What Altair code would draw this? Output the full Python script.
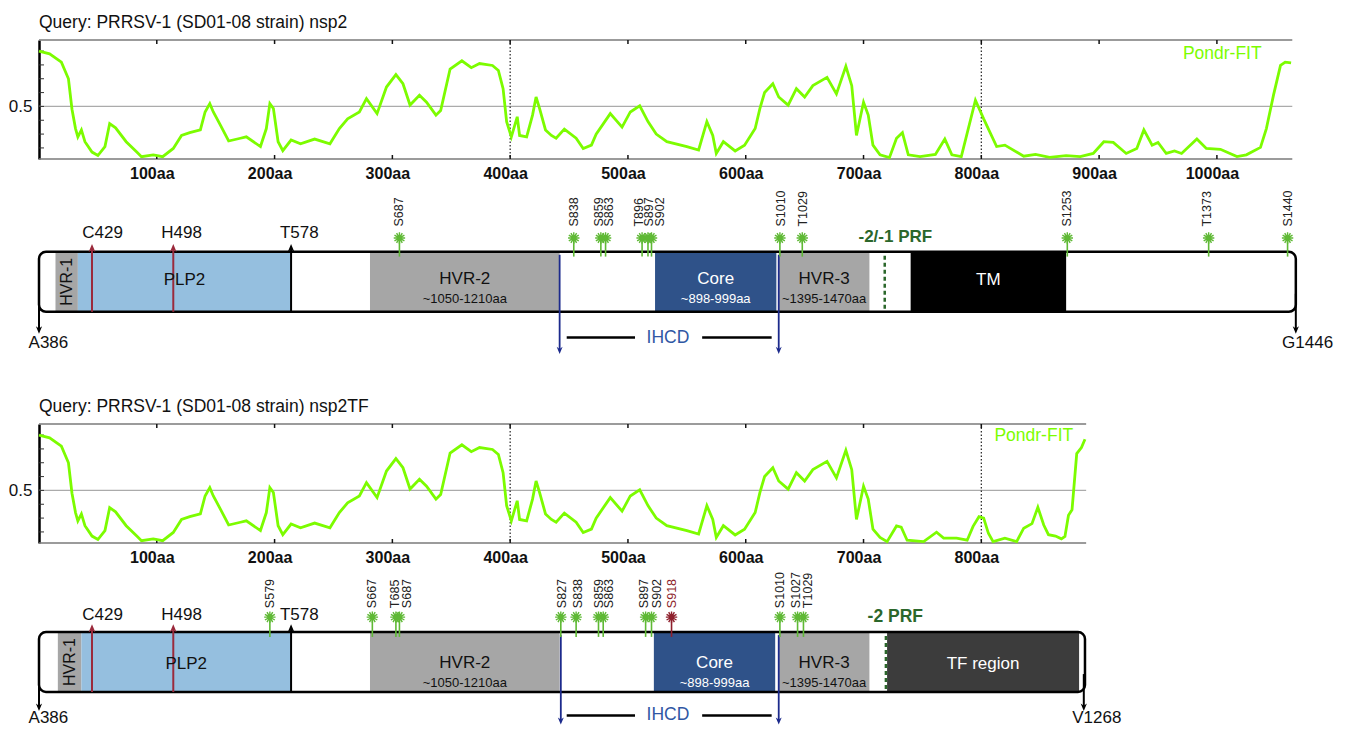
import altair as alt
import pandas as pd

FONT = "Liberation Sans"

# ---------------- Pondr-FIT disorder profiles ----------------
shared_aa = [0, 9, 19, 25, 28, 31, 33, 36, 39, 45, 50, 56,
             60, 65, 74, 83, 87, 97, 105, 114, 121, 128, 137, 141,
             145, 148, 154, 161, 171, 176, 188, 193, 196, 199, 203, 207,
             214, 222, 234, 247, 255, 262, 272, 278, 287, 295, 303, 309,
             315, 323, 329, 337, 341, 349, 359, 367, 374, 385, 390, 394,
             397, 401, 406, 408, 414, 419, 422, 425, 430, 435, 439, 446,
             456, 462, 469, 473, 485, 495, 502, 510, 517, 524, 533, 550,
             560, 567, 572, 575, 581, 591, 599, 608, 612, 616, 623, 628,
             636, 643, 650, 657, 669, 677, 685, 690, 694, 700, 704, 708]
shared_score = [0.90, 0.88, 0.82, 0.70, 0.48, 0.34, 0.28, 0.33, 0.245, 0.17, 0.145, 0.21,
                0.376, 0.345, 0.245, 0.17, 0.137, 0.15, 0.137, 0.196, 0.29, 0.31, 0.33, 0.46,
                0.52, 0.46, 0.365, 0.25, 0.27, 0.28, 0.21, 0.34, 0.52, 0.485, 0.245, 0.18,
                0.257, 0.23, 0.264, 0.23, 0.34, 0.41, 0.46, 0.556, 0.448, 0.64, 0.73, 0.664,
                0.51, 0.58, 0.53, 0.437, 0.47, 0.77, 0.83, 0.78, 0.81, 0.796, 0.76, 0.628,
                0.39, 0.28, 0.425, 0.29, 0.28, 0.437, 0.568, 0.484, 0.33, 0.29, 0.27, 0.336,
                0.27, 0.196, 0.22, 0.30, 0.448, 0.35, 0.46, 0.504, 0.39, 0.30, 0.245, 0.21,
                0.185, 0.39, 0.29, 0.16, 0.245, 0.178, 0.22, 0.34, 0.484, 0.60, 0.664, 0.568,
                0.509, 0.628, 0.568, 0.65, 0.71, 0.59, 0.79, 0.65, 0.29, 0.53, 0.437, 0.22]

nsp2_tail_aa = [714, 722, 728, 733, 738, 748, 761, 769, 775, 783, 795, 802,
                813, 820, 836, 846, 858, 872, 884, 895, 904, 912, 923, 932,
                938, 945, 950, 957, 964, 970, 983, 991, 1003, 1017, 1025, 1037,
                1042, 1048, 1054, 1058, 1063]
nsp2_tail_score = [0.15, 0.13, 0.27, 0.31, 0.15, 0.137, 0.153, 0.264, 0.15, 0.137, 0.545, 0.41,
                   0.21, 0.22, 0.14, 0.153, 0.132, 0.144, 0.137, 0.16, 0.245, 0.24, 0.16, 0.196,
                   0.33, 0.22, 0.24, 0.16, 0.178, 0.16, 0.264, 0.196, 0.19, 0.137, 0.15, 0.204,
                   0.34, 0.58, 0.796, 0.82, 0.815]

nsp2tf_tail_aa = [714, 720, 728, 732, 737, 751, 762, 768, 779, 788, 793, 798,
                  802, 806, 810, 820, 830, 836, 843, 848, 853, 857, 863, 868,
                  871, 874, 877, 881, 885, 888]
nsp2tf_tail_score = [0.16, 0.13, 0.243, 0.234, 0.14, 0.13, 0.198, 0.155, 0.155, 0.14, 0.24, 0.31,
                     0.30, 0.19, 0.13, 0.155, 0.13, 0.227, 0.26, 0.378, 0.25, 0.18, 0.17, 0.15,
                     0.167, 0.32, 0.36, 0.766, 0.81, 0.87]

nsp2_end = 1064
nsp2tf_end = 889
nsp2_ticks = [100, 200, 300, 400, 500, 600, 700, 800, 900, 1000]
nsp2tf_ticks = [100, 200, 300, 400, 500, 600, 700, 800]
dotted_marks = [400, 800]
minor_y = [0.2, 0.3, 0.4, 0.5, 0.6, 0.7, 0.8, 0.9]

# ---------------- schematic domains (aa units of the profile axis) ----------------
seg_color_domain = ["HVR-1", "PLP2", "HVR-2", "Core", "HVR-3", "TM", "TF region"]
seg_color_range = ["#a6a6a6", "#95bfdf", "#a6a6a6", "#2f5289", "#a6a6a6", "#000000", "#3c3c3c"]
light_text = ["Core", "TM", "TF region"]

d1_seg_names = ["HVR-1", "PLP2", "HVR-2", "Core", "HVR-3", "TM"]
d1_seg_start = [14, 33, 281, 523, 628, 740]
d1_seg_end = [33, 214, 442, 626, 705, 872]
d1_seg_sub = ["", "", "~1050-1210aa", "~898-999aa", "~1395-1470aa", ""]
d1_box_end = 1067

d2_seg_names = ["HVR-1", "PLP2", "HVR-2", "Core", "HVR-3", "TF region"]
d2_seg_start = [16, 36, 281, 522, 628, 720]
d2_seg_end = [36, 214, 442, 625, 705, 883]
d2_seg_sub = ["", "", "~1050-1210aa", "~898-999aa", "~1395-1470aa", ""]
d2_box_end = 888

d1_sites = ["S687", "S838", "S859", "S863", "T896", "S897", "S902", "S1010", "T1029", "S1253", "T1373", "S1440"]
d1_site_pos = [306, 454, 477, 481, 512, 517, 520, 629, 648, 873, 993, 1060]
d1_site_lab = [306, 454, 475, 484, 509, 518, 527, 630, 649, 873, 992, 1060]

d2_sites = ["S579", "S667", "T685", "S687", "S827", "S838", "S859", "S863", "S897", "S902", "S918", "S1010", "S1027", "T1029"]
d2_site_pos = [196, 283, 303, 306, 443, 456, 475, 479, 515, 520, 537, 629, 644, 649]
d2_site_lab = [196, 283, 302, 312, 444, 458, 475, 484, 514, 525, 537, 629, 643, 653]
highlight_sites = ["S918"]

mk_names = ["C429", "H498", "T578"]
mk_pos = [45, 114, 214]
mk_lab = [54, 121, 221]

d1_end_names = ["A386", "G1446"]
d1_end_pos = [0, 1067]
d1_end_lab = [8, 1077]
d2_end_names = ["A386", "V1268"]
d2_end_pos = [0, 887]
d2_end_lab = [8, 898]

d1_ihcd = [442, 628]
d2_ihcd = [443, 628]
ihcd_bar_start = [448, 563]
ihcd_bar_end = [506, 622]
ihcd_label_pos = 534

# ---------------- styles ----------------
GREEN = "#7CFC00"
SITE_GREEN = "#5fb935"
SITE_RED = "#8e1f2c"
RED = "#9b2a3c"
NAVY = "#1c2a8c"
PRF_GREEN = "#2b672b"
STAR = ("M0,-1L0,1M-1,0L1,0M-0.87,-0.5L0.87,0.5M-0.87,0.5L0.87,-0.5"
        "M-0.5,-0.87L0.5,0.87M-0.5,0.87L0.5,-0.87")
UP = "M0,-1L0.8,0.9L0,0.35L-0.8,0.9Z"
DOWN = "M0,1L0.8,-0.9L0,-0.35L-0.8,-0.9Z"

XMAX = 1068
W = 1258
LINE_H = 119
xs = alt.Scale(domain=[0, XMAX], nice=False, zero=False)


def line_panel(aa, score, end, ticks, title, pondr_aa, pondr_score):
    ys = alt.Scale(domain=[0.12, 0.98], nice=False, zero=False)
    df = pd.DataFrame({"aa": aa, "score": score})
    xax = alt.Axis(values=ticks, labelExpr="datum.value + 'aa'", domain=False, ticks=False,
                   grid=False, labelFontWeight="bold", labelFontSize=16, labelPadding=6,
                   labelOffset=-5, labelColor="#111", title=None)
    yax = alt.Axis(values=[0.5], domain=True, domainColor="#000", domainWidth=2.5, ticks=False,
                   grid=False, labelFontSize=17, labelPadding=7, labelColor="#111", title=None)

    def X(f):
        return alt.X(f, type="quantitative", scale=xs, axis=xax, title=None)

    def Y(f):
        return alt.Y(f, type="quantitative", scale=ys, axis=yax, title=None)

    grid = alt.Chart(pd.DataFrame({"aa": [0], "b": [end], "score": [0.5]})).mark_rule(
        color="#ababab", strokeWidth=1.2).encode(x=X("aa"), x2="b", y=Y("score"))
    dots = alt.Chart(pd.DataFrame({"aa": [v for v in dotted_marks if v < end]})).mark_rule(
        color="#222", strokeWidth=1.2, strokeDash=[1.5, 2]).encode(
        x=X("aa"), y=alt.value(0), y2=alt.value(LINE_H))
    frame = alt.Chart(pd.DataFrame({"aa": [0, 0], "b": [end, end], "score": [0.12, 0.98]})).mark_rule(
        color="#7a7a7a", strokeWidth=1.6).encode(x=X("aa"), x2="b", y=Y("score"))
    ttop = alt.Chart(pd.DataFrame({"aa": ticks})).mark_rule(color="#111", strokeWidth=1.5).encode(
        x=X("aa"), y=alt.value(0), y2=alt.value(4))
    tbot = alt.Chart(pd.DataFrame({"aa": ticks})).mark_rule(color="#111", strokeWidth=1.5).encode(
        x=X("aa"), y=alt.value(LINE_H - 4), y2=alt.value(LINE_H))
    tleft = alt.Chart(pd.DataFrame({"score": minor_y})).mark_rule(color="#333", strokeWidth=1).encode(
        y=Y("score"), x=alt.value(0), x2=alt.value(5))
    line = alt.Chart(df).mark_line(color=GREEN, strokeWidth=2.8).encode(
        x=X("aa"), y=Y("score"))
    lab = alt.Chart(pd.DataFrame({"aa": [pondr_aa], "score": [pondr_score], "t": ["Pondr-FIT"]})).mark_text(
        align="right", fontSize=17.5, color=GREEN).encode(x=X("aa"), y=Y("score"), text="t:N")
    return alt.layer(grid, dots, frame, ttop, tbot, tleft, line, lab).properties(
        width=W, height=LINE_H,
        title=alt.TitleParams(title, anchor="start", frame="group", fontSize=17.5,
                              fontWeight="normal", color="#111", offset=8))


def diagram(seg_names, seg_start, seg_end, seg_sub, box_end, sites, site_pos, site_lab,
            end_names, end_pos, end_lab, ihcd, prf_pos, prf_text, prf_size, lv):
    ys = alt.Scale(domain=[lv["lo"], lv["hi"]], nice=False, zero=False)
    H = round((lv["hi"] - lv["lo"]) * 60)

    def X(f):
        return alt.X(f, type="quantitative", scale=xs, axis=None)

    def Y(v):
        return alt.YDatum(v, scale=ys, axis=None, type="quantitative")

    def Y2(v):
        return alt.Y2Datum(v)

    def YF(f):
        return alt.Y(f, type="quantitative", scale=ys, axis=None)

    box_df = pd.DataFrame({"a": [0], "b": [box_end]})
    seg_df = pd.DataFrame({"name": seg_names, "a": seg_start, "b": seg_end, "sub": seg_sub})
    mk_df = pd.DataFrame({"name": mk_names, "a": mk_pos, "lab": mk_lab})
    end_df = pd.DataFrame({"name": end_names, "a": end_pos, "lab": end_lab})
    site_df = pd.DataFrame({"name": sites, "a": site_pos, "lab": site_lab})
    ihcd_df = pd.DataFrame({"a": ihcd})
    bar_df = pd.DataFrame({"a": ihcd_bar_start, "b": ihcd_bar_end})

    layers = []
    layers.append(alt.Chart(box_df).mark_rect(fill="white", cornerRadius=7).encode(
        x=X("a"), x2="b", y=Y(0), y2=Y2(1)))
    layers.append(alt.Chart(seg_df).mark_rect().encode(
        x=X("a"), x2="b", y=Y(0), y2=Y2(1),
        color=alt.Color("name:N", scale=alt.Scale(domain=seg_color_domain, range=seg_color_range),
                        legend=None)))
    layers.append(alt.Chart(pd.DataFrame({"a": [prf_pos]})).mark_rule(
        color=PRF_GREEN, strokeWidth=2.5, strokeDash=[4, 3]).encode(x=X("a"), y=Y(0.05), y2=Y2(0.95)))
    layers.append(alt.Chart(box_df).mark_rect(fillOpacity=0, stroke="#000", strokeWidth=2.5,
                                              cornerRadius=7).encode(
        x=X("a"), x2="b", y=Y(0), y2=Y2(1)))

    # catalytic residues / cleavage site
    mk_color = alt.condition(alt.datum.name == "T578", alt.value("#000"), alt.value(RED))
    layers.append(alt.Chart(mk_df).mark_rule(strokeWidth=2).encode(
        x=X("a"), y=Y(0), y2=Y2(lv["arrow_top"]), color=mk_color))
    layers.append(alt.Chart(mk_df).mark_point(shape=UP, filled=True, size=70, opacity=1).encode(
        x=X("a"), y=Y(lv["arrow_top"]), color=mk_color))
    layers.append(alt.Chart(mk_df).mark_text(fontSize=17, color="#111").encode(
        x=X("lab"), y=Y(lv["top_lab"]), text="name:N"))

    # termini
    layers.append(alt.Chart(end_df).mark_rule(strokeWidth=2, color="#000").encode(
        x=X("a"), y=Y(0.3), y2=Y2(lv["end_tip"])))
    layers.append(alt.Chart(end_df).mark_point(shape=DOWN, filled=True, size=60, opacity=1,
                                               color="#000").encode(
        x=X("a"), y=Y(lv["end_tip"])))
    layers.append(alt.Chart(end_df).mark_text(fontSize=17, color="#111").encode(
        x=X("lab"), y=Y(lv["end_lab"]), text="name:N"))

    # IHCD
    layers.append(alt.Chart(ihcd_df).mark_rule(strokeWidth=1.8, color=NAVY).encode(
        x=X("a"), y=Y(lv["ihcd_top"]), y2=Y2(lv["ihcd_tip"])))
    layers.append(alt.Chart(ihcd_df).mark_point(shape=DOWN, filled=True, size=55, opacity=1,
                                                color=NAVY).encode(
        x=X("a"), y=Y(lv["ihcd_tip"])))
    layers.append(alt.Chart(bar_df).mark_rule(strokeWidth=2.5, color="#000").encode(
        x=X("a"), x2="b", y=Y(lv["ihcd_row"])))
    layers.append(alt.Chart(pd.DataFrame({"a": [ihcd_label_pos], "t": ["IHCD"]})).mark_text(
        fontSize=17.5, color="#2f57a4").encode(x=X("a"), y=Y(lv["ihcd_row"]), text="t:N"))

    # phosphorylation sites
    hi = alt.FieldOneOfPredicate(field="name", oneOf=highlight_sites)
    site_color = alt.condition(hi, alt.value(SITE_RED), alt.value(SITE_GREEN))
    layers.append(alt.Chart(site_df).mark_rule(strokeWidth=1.6).encode(
        x=X("a"), y=Y(lv["stem_lo"]), y2=Y2(lv["head"]), color=site_color))
    layers.append(alt.Chart(site_df).mark_point(shape=STAR, filled=False, size=130, strokeWidth=1.4,
                                                opacity=1).encode(
        x=X("a"), y=Y(lv["head"]), color=site_color))
    layers.append(alt.Chart(site_df).mark_point(shape="circle", filled=True, size=18, opacity=1).encode(
        x=X("a"), y=Y(lv["head"]), color=site_color))
    layers.append(alt.Chart(site_df).mark_text(angle=270, align="left", baseline="middle",
                                               fontSize=12.5).encode(
        x=X("lab"), y=Y(lv["lab"]), text="name:N",
        color=alt.condition(hi, alt.value(SITE_RED), alt.value("#222"))))

    # domain texts
    txt_color = alt.condition(alt.FieldOneOfPredicate(field="name", oneOf=light_text),
                              alt.value("#ffffff"), alt.value("#111"))
    layers.append(alt.Chart(seg_df).transform_filter(alt.datum.name == "HVR-1").transform_calculate(
        mid="(datum.a + datum.b) / 2").mark_text(angle=270, fontSize=16, color="#111").encode(
        x=X("mid:Q"), y=Y(0.5), text="name:N"))
    layers.append(alt.Chart(seg_df).transform_filter(alt.datum.name != "HVR-1").transform_calculate(
        mid="(datum.a + datum.b) / 2",
        yy="datum.sub ? %f : %f" % (lv["main"], lv["single"])).mark_text(fontSize=17).encode(
        x=X("mid:Q"), y=YF("yy"), text="name:N", color=txt_color))
    layers.append(alt.Chart(seg_df).transform_filter(alt.datum.sub != "").transform_calculate(
        mid="(datum.a + datum.b) / 2").mark_text(fontSize=13).encode(
        x=X("mid:Q"), y=Y(lv["sub"]), text="sub:N", color=txt_color))

    layers.append(alt.Chart(pd.DataFrame({"a": [727], "t": [prf_text]})).mark_text(
        fontSize=prf_size, fontWeight="bold", color=PRF_GREEN).encode(
        x=X("a"), y=Y(lv["prf"]), text="t:N"))

    return alt.layer(*layers).properties(width=W, height=H)


lv1 = dict(lo=-1.42, hi=2.18, head=1.23, stem_lo=0.92, lab=1.42, top_lab=1.32, prf=1.25,
           arrow_top=1.06, end_tip=-0.30, end_lab=-0.52, ihcd_top=0.95, ihcd_tip=-0.64,
           ihcd_row=-0.43, main=0.55, single=0.53, sub=0.21)
lv2 = dict(lo=-0.55, hi=2.12, head=1.25, stem_lo=0.92, lab=1.40, top_lab=1.28, prf=1.25,
           arrow_top=1.06, end_tip=-0.25, end_lab=-0.44, ihcd_top=0.95, ihcd_tip=-0.48,
           ihcd_row=-0.39, main=0.48, single=0.47, sub=0.15)

line1 = line_panel(shared_aa + nsp2_tail_aa, shared_score + nsp2_tail_score, nsp2_end,
                   nsp2_ticks, "Query: PRRSV-1 (SD01-08 strain) nsp2", 1038, 0.878)
diag1 = diagram(d1_seg_names, d1_seg_start, d1_seg_end, d1_seg_sub, d1_box_end,
                d1_sites, d1_site_pos, d1_site_lab, d1_end_names, d1_end_pos, d1_end_lab,
                d1_ihcd, 718, "-2/-1 PRF", 17, lv1)
line2 = line_panel(shared_aa + nsp2tf_tail_aa, shared_score + nsp2tf_tail_score, nsp2tf_end,
                   nsp2tf_ticks, "Query: PRRSV-1 (SD01-08 strain) nsp2TF", 878, 0.896)
diag2 = diagram(d2_seg_names, d2_seg_start, d2_seg_end, d2_seg_sub, d2_box_end,
                d2_sites, d2_site_pos, d2_site_lab, d2_end_names, d2_end_pos, d2_end_lab,
                d2_ihcd, 719, "-2 PRF", 17.5, lv2)

chart = alt.vconcat(line1, diag1, line2, diag2, spacing=0).resolve_scale(
    x="independent", y="independent", color="independent").configure(font=FONT).configure_view(
    stroke=None).properties(padding={"left": 0, "right": 0, "top": 5, "bottom": 0})

chart.save("out.html", embed_options={"renderer": "svg", "actions": False})
